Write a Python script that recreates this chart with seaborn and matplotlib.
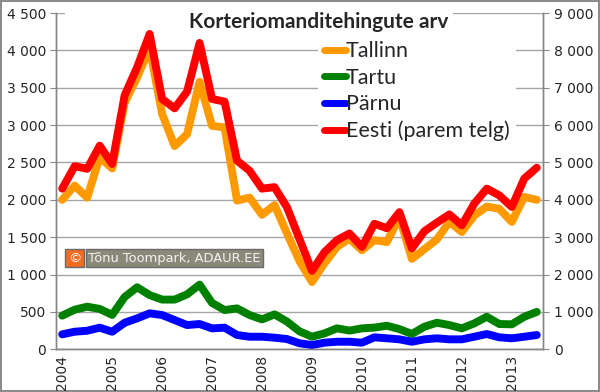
import matplotlib
matplotlib.use("Agg")
import matplotlib.pyplot as plt
import numpy as np
import seaborn as sns
from matplotlib.lines import Line2D
from matplotlib.patches import Rectangle

# === Kvartaalsed andmed 2004 Q1 ... 2013 Q3
years = list(range(2004, 2014))
tallinn = [2000, 2190, 2030, 2570, 2420, 3300, 3640, 4030, 3150, 2720,
           2880, 3580, 2990, 2970, 1990, 2030, 1800, 1930, 1550, 1180,
           900, 1150, 1370, 1480, 1325, 1460, 1435, 1770, 1210, 1340,
           1470, 1705, 1570, 1790, 1910, 1880, 1705, 2040, 2000]
tartu = [450, 530, 570, 540, 460, 700, 830, 725, 665, 665,
         735, 865, 620, 525, 547, 458, 400, 467, 370, 240,
         168, 213, 280, 250, 280, 290, 315, 270, 205, 302,
         355, 324, 280, 347, 435, 338, 334, 435, 500]
parnu = [200, 235, 248, 289, 235, 355, 414, 481, 458, 391,
         324, 338, 280, 289, 191, 168, 168, 155, 137, 80,
         57, 88, 101, 101, 88, 160, 147, 133, 101, 133,
         147, 133, 133, 168, 204, 160, 147, 168, 191]
eesti = [4300, 4900, 4830, 5450, 4960, 6800, 7550, 8440, 6700, 6450,
         6900, 8200, 6700, 6630, 5050, 4780, 4300, 4340, 3800, 2950,
         2100, 2600, 2920, 3100, 2740, 3360, 3240, 3670, 2700, 3160,
         3390, 3610, 3320, 3900, 4300, 4120, 3810, 4570, 4860]

labels = ["Tallinn", "Tartu", "Pärnu", "Eesti (parem telg)"]
colors = ["#FF9900", "#008000", "#0000FF", "#FF0000"]
quarters = np.arange(len(tallinn))

sns.set_style("white")
plt.rcParams["font.family"] = ["DejaVu Sans"]

fig = plt.figure(figsize=(6, 3.92), dpi=100)
fig.patch.set_edgecolor("#8c8c8c")
fig.patch.set_linewidth(1.5)
ax = fig.add_axes([0.0933, 0.109, 0.8117, 0.8577])
ax2 = ax.twinx()

line_kw = dict(linewidth=5.7, solid_joinstyle="round", solid_capstyle="round")
for vals, col in zip([tallinn, tartu, parnu], colors[:3]):
    sns.lineplot(x=quarters, y=vals, ax=ax, color=col, legend=False, zorder=3, **line_kw)
sns.lineplot(x=quarters, y=eesti, ax=ax2, color=colors[3], legend=False, zorder=3, **line_kw)

# === Teljed
grey = "#868686"
ax.set_xlim(-0.5, len(tallinn) - 0.5)
ax.set_ylim(0, 4500)
ax2.set_ylim(0, 9000)
ax.set_yticks(np.arange(0, 4501, 500))
ax2.set_yticks(np.arange(0, 9001, 1000))
fmt = lambda v: f"{int(v):,}".replace(",", " ")
ax.set_yticklabels([fmt(v) for v in ax.get_yticks()])
ax2.set_yticklabels([fmt(v) for v in ax2.get_yticks()])
ax.set_xticks(np.arange(0, len(tallinn), 4))
ax.set_xticklabels([str(y) for y in years], rotation=90, va="top", ha="center")
ax.set_xticks(np.arange(-0.5, len(tallinn), 1), minor=True)
ax.tick_params(axis="x", which="major", length=0, pad=4, labelsize=10)
ax.tick_params(axis="x", which="minor", length=5, color=grey, direction="out")
ax.tick_params(axis="y", length=4, color=grey, labelsize=10, pad=3)
ax2.tick_params(axis="y", length=4, color=grey, labelsize=10, pad=4)
ax.set_xlabel("")
ax.set_ylabel("")
ax2.set_ylabel("")

ax.yaxis.grid(True, color="#a6a6a6", linewidth=1)
ax.set_axisbelow(True)
ax.spines["top"].set_visible(False)
ax2.spines["top"].set_visible(False)
for a in (ax, ax2):
    for s in ["left", "bottom", "right"]:
        a.spines[s].set_color(grey)
        a.spines[s].set_linewidth(1)

# === Pealkiri (valge taust katab ruudujoone)
ax.add_patch(Rectangle((0.019, 0.94), 0.797, 0.07, transform=ax.transAxes,
                       facecolor="white", edgecolor="none", zorder=1, clip_on=False))
ax2.text(0.54, 0.974, "Korteriomanditehingute arv", transform=ax.transAxes,
         ha="center", va="center", fontsize=15, fontweight="bold", family=["Lato", "DejaVu Sans"])

# === Legend
handles = [Line2D([0], [0], color=c, linewidth=5, solid_capstyle="round") for c in colors]
leg = ax2.legend(handles, labels, loc="upper left",
                 bbox_to_anchor=((318 - 56) / 487, (349.3 - 34) / 337),
                 handlelength=1.0, handletextpad=0.0, labelspacing=0.3,
                 borderpad=0.3, borderaxespad=0, frameon=True, fancybox=False,
                 prop={"family": ["Lato", "DejaVu Sans"], "size": 15.5})
leg.get_frame().set_facecolor("white")
leg.get_frame().set_edgecolor("none")
leg.get_frame().set_alpha(1)

# === Autoriõigus
ax2.text(0.0245, 0.271, "©", transform=ax.transAxes, ha="left", va="center",
         fontsize=9.5, color="white",
         bbox=dict(boxstyle="square,pad=0.2", facecolor="#F26B21", edgecolor="#6a6a6a"))
ax2.text(0.066, 0.271, "Tõnu Toompark, ADAUR.EE", transform=ax.transAxes,
         ha="left", va="center", fontsize=9.4, color="#f2f2f2",
         bbox=dict(boxstyle="square,pad=0.2", facecolor="#8B8A7A", edgecolor="#6a6a6a"))

fig.savefig("out.png", dpi=100)
